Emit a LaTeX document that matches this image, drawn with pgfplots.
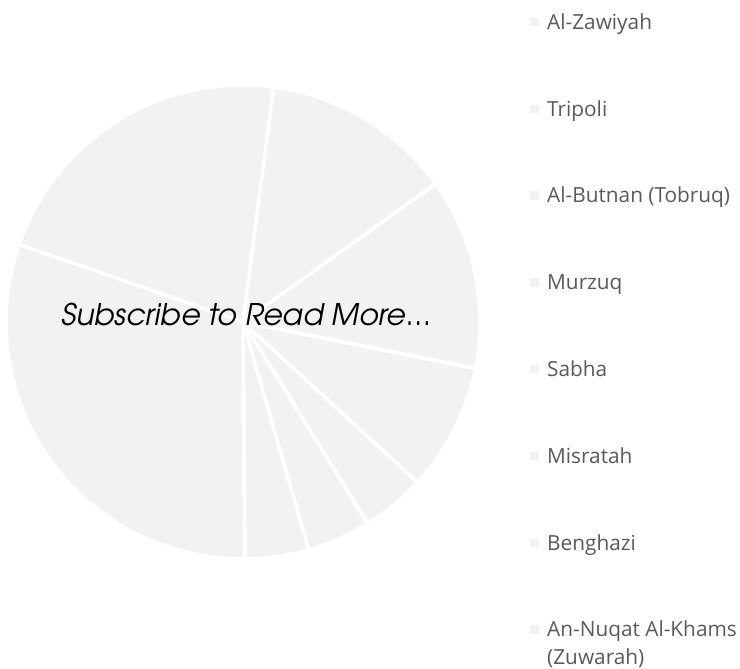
\documentclass[border=0pt]{standalone}
\usepackage{pgfplots}
\pgfplotsset{compat=1.18}
\usepackage{pgfplotstable}
\usepackage{fontspec}
\setmainfont{Open Sans}
\newfontfamily\gothic{texgyreadventor}[Extension=.otf, UprightFont=*-regular, ItalicFont=*-italic, BoldFont=*-bold, BoldItalicFont=*-bolditalic]
\definecolor{piegray}{HTML}{F2F2F2}
\definecolor{legtext}{HTML}{595959}

% slice values (shares), in legend order, drawn clockwise
\pgfplotstableread{
value
3
3
2
1
1
1
7
5
}\piedata

% cumulative angles
\xdef\pietotal{0}
\foreach \i in {0,...,7}{
  \pgfplotstablegetelem{\i}{value}\of\piedata
  \pgfmathsetmacro{\tmp}{\pietotal+\pgfplotsretval}
  \xdef\pietotal{\tmp}
}
\xdef\cum{82.6}
\foreach \i in {0,...,7}{
  \pgfplotstablegetelem{\i}{value}\of\piedata
  \pgfmathsetmacro{\nxt}{\cum - \pgfplotsretval*360/\pietotal}
  \expandafter\xdef\csname pieS\i\endcsname{\cum}
  \expandafter\xdef\csname pieE\i\endcsname{\nxt}
  \xdef\cum{\nxt}
}

\begin{document}
\begin{tikzpicture}[x=1pt,y=1pt]
\useasboundingbox (0,0) rectangle (740,669);
\begin{axis}[
  at={(243pt,347pt)}, anchor=center,
  width=474pt, height=474pt, scale only axis,
  xmin=-1, xmax=1, ymin=-1, ymax=1,
  hide axis, clip=false,
]
\pgfplotsinvokeforeach{0,...,7}{
  \addplot[fill=piegray, draw=white, line width=3.5pt, line join=round,
    domain=\csname pieE#1\endcsname:\csname pieS#1\endcsname, samples=90, variable=\t]
    ({cos(\t)},{sin(\t)}) -- (axis cs:0,0) -- cycle;
}
\node[anchor=base, font=\gothic\itshape\fontsize{29.8}{34}\selectfont, text=black]
  at (axis cs:0.013,-0.013) {Subscribe to Read More…};
\end{axis}
% legend
\foreach \name [count=\k from 0] in {Al-Zawiyah, Tripoli, Al-Butnan (Tobruq), Murzuq, Sabha, Misratah, Benghazi, An-Nuqat Al-Khams}{
  \pgfmathsetmacro{\yb}{669-(29.3+86.8*\k)}
  \fill[piegray] (530,\yb+3) rectangle (538.5,\yb+11.5);
  \node[anchor=base west, inner sep=0pt, text=legtext, font=\fontsize{20.8}{28.5}\selectfont] at (547,\yb) {\name};
}
\node[anchor=base west, inner sep=0pt, text=legtext, font=\fontsize{20.8}{28.5}\selectfont] at (547,669-665) {(Zuwarah)};
\end{tikzpicture}
\end{document}
